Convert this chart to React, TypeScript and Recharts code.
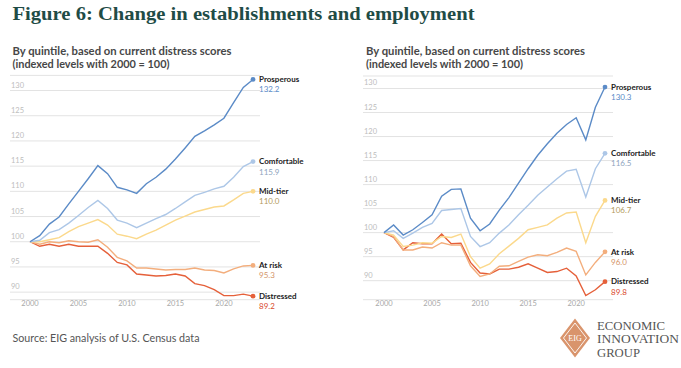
import React from "react";
import { LineChart, Line, XAxis, YAxis, CartesianGrid } from "recharts";

const YEARS = [2000, 2001, 2002, 2003, 2004, 2005, 2006, 2007, 2008, 2009, 2010, 2011, 2012, 2013, 2014, 2015, 2016, 2017, 2018, 2019, 2020, 2021, 2022, 2023];
const X_TICKS = [2000, 2005, 2010, 2015, 2020];
const Y_TICKS = [90, 95, 100, 105, 110, 115, 120, 125, 130];

const SERIES_NAMES = ["Prosperous", "Comfortable", "Mid-tier", "At risk", "Distressed"];
const SERIES_KEYS = ["p", "c", "m", "a", "d"];
const LINE_COLORS = ["#5b8bc7", "#adc7e7", "#fbd98c", "#f3ae7d", "#e5603a"];
const VALUE_COLORS = ["#5b8bc7", "#8ea3bd", "#b39a5c", "#d49469", "#d9492c"];

// Left panel: establishments
const estProsperous = [100, 101.2, 103.5, 104.9, 107.5, 110, 112.5, 115.1, 113.5, 110.8, 110.3, 109.6, 111.5, 112.8, 114.4, 116.4, 118.6, 120.9, 122, 123.2, 124.5, 127.6, 130.6, 132.2];
const estComfortable = [100, 100.3, 101.8, 102.4, 103.7, 105.2, 106.8, 108.2, 106.6, 104.3, 103.7, 102.8, 103.7, 104.6, 105.4, 106.6, 107.9, 109.2, 109.8, 110.5, 111, 112.8, 114.9, 115.9];
const estMidTier = [100, 100, 100.4, 100.8, 102, 103, 103.7, 104.4, 103.3, 101.5, 101.1, 100.6, 101.5, 102.3, 103.3, 104.3, 105.1, 105.9, 106.4, 106.9, 107.1, 108.3, 109.6, 110.0];
const estAtRisk = [100, 99.5, 100, 99.8, 100.2, 100, 99.9, 100.4, 98.9, 96.9, 96.2, 94.8, 94.8, 94.6, 94.4, 94.5, 94.5, 94.8, 94.4, 94.3, 93.8, 94.6, 95.2, 95.3];
const estDistressed = [100, 99.1, 99.5, 99.1, 99.5, 99.1, 99.1, 99.1, 97.7, 95.9, 95.4, 93.6, 93.4, 93.2, 93.3, 93.6, 93.2, 91.7, 91.3, 90.5, 89.3, 89.3, 89.6, 89.2];

// Right panel: employment
const empProsperous = [100, 101.6, 99.5, 100.6, 102.1, 103.7, 107.6, 109, 109.1, 103, 100.4, 101.8, 104.7, 107.3, 110.3, 113.3, 116.1, 118.5, 120.7, 122.5, 123.9, 119.3, 126.1, 130.3];
const empComfortable = [100, 100.4, 98.8, 99.9, 101.1, 101.9, 104.6, 104.8, 105, 99.2, 97.1, 97.9, 99.9, 101.6, 103.7, 105.7, 107.8, 109.5, 111.2, 112.8, 113.2, 107.4, 113.3, 116.5];
const empMidTier = [100, 99.5, 97.1, 97.4, 97.9, 97.8, 99.2, 99, 99.7, 95, 92.6, 93.5, 95.6, 97.2, 98.8, 100.6, 101.1, 101.6, 103, 104.1, 104.3, 97.9, 103.4, 106.7];
const empAtRisk = [100, 99.2, 96.4, 96.4, 97, 96.8, 97.9, 97.4, 97.4, 93.1, 90.9, 91.4, 93, 93.1, 94, 94.9, 95.4, 95.2, 95.9, 96.8, 96.1, 91.2, 93.8, 96.0];
const empDistressed = [100, 99, 96.4, 97.9, 97.7, 97.7, 99.7, 97.7, 97.8, 93.8, 91.6, 91.4, 92.4, 92.4, 92.8, 93.5, 92.6, 91.7, 91.9, 92.6, 91, 86.9, 88.1, 89.8];

const buildRows = (series: number[][]) =>
  YEARS.map((year, i) => {
    const row: any = { year };
    SERIES_KEYS.forEach((k, s) => {
      row[k] = series[s][i];
    });
    return row;
  });

const estRows = buildRows([estProsperous, estComfortable, estMidTier, estAtRisk, estDistressed]);
const empRows = buildRows([empProsperous, empComfortable, empMidTier, empAtRisk, empDistressed]);

const SANS = "Lato, 'Open Sans', sans-serif";

const makeYTick = (labelX: number) => (props: any) => {
  const { y, payload } = props;
  return (
    <text x={labelX} y={y - 3} fontSize={7.5} fill="#bdbdbd" fontFamily={SANS} textAnchor="start">
      {payload.value}
    </text>
  );
};

const XTick = (props: any) => {
  const { x, y, payload } = props;
  return (
    <text x={x} y={y + 6.5} fontSize={7.5} fill="#a8a8a8" fontFamily={SANS} textAnchor="middle">
      {payload.value}
    </text>
  );
};

const makeEndDot = (s: number, key: string) => (props: any) => {
  const { cx, cy, index, payload } = props;
  if (index !== YEARS.length - 1) return <g key={`d-${key}-${index}`} />;
  return (
    <g key={`d-${key}-${index}`}>
      <circle cx={cx} cy={cy} r={2.4} fill={LINE_COLORS[s]} />
      <text x={cx + 6} y={cy + 2.8} fontSize={8} fontWeight={700} fill="#222" fontFamily={SANS}>
        {SERIES_NAMES[s]}
      </text>
      <text x={cx + 6} y={cy + 13} fontSize={8} fill={VALUE_COLORS[s]} fontFamily={SANS}>
        {payload[key].toFixed(1)}
      </text>
    </g>
  );
};

type PanelProps = {
  rows: any[];
  left: number;
  width: number;
  domain: [number, number];
  margin: { top: number; right: number; bottom: number; left: number };
  padding: { left: number; right: number };
};

const Panel = ({ rows, left, width, domain, margin, padding }: PanelProps) => (
  <div style={{ position: "absolute", left, top: 0 }}>
    <LineChart width={width} height={368} data={rows} margin={margin}>
      <CartesianGrid horizontal vertical={false} stroke="#e3e3e3" strokeWidth={1} />
      <XAxis
        dataKey="year"
        type="number"
        domain={[2000, 2023]}
        ticks={X_TICKS}
        padding={padding}
        axisLine={false}
        tickLine={false}
        tickSize={0}
        tickMargin={0}
        height={20}
        tick={<XTick />}
        interval={0}
      />
      <YAxis
        type="number"
        domain={domain}
        ticks={Y_TICKS}
        width={1}
        axisLine={false}
        tickLine={false}
        tickSize={0}
        tickMargin={0}
        tick={makeYTick(margin.left + 2)}
        interval={0}
      />
      {SERIES_KEYS.map((k, s) => (
        <Line
          key={k}
          dataKey={k}
          type="linear"
          stroke={LINE_COLORS[s]}
          strokeWidth={1.4}
          dot={makeEndDot(s, k)}
          activeDot={false}
          isAnimationActive={false}
        />
      )).reverse()}
    </LineChart>
  </div>
);

export default function App() {
  return (
    <div style={{ position: "absolute", left: 0, top: 0, width: 681, height: 368, background: "#fff", overflow: "hidden" }}>
      <Panel
        rows={estRows}
        left={0}
        width={340}
        domain={[88.5, 133]}
        margin={{ top: 75.4, right: 80, bottom: 48.3, left: 9 }}
        padding={{ left: 20, right: 7 }}
      />
      <Panel
        rows={empRows}
        left={340}
        width={341}
        domain={[86.04, 132.6]}
        margin={{ top: 76, right: 68, bottom: 48.3, left: 22 }}
        padding={{ left: 21, right: 8 }}
      />
      <svg width={681} height={368} style={{ position: "absolute", left: 0, top: 0, pointerEvents: "none" }}>
        <text x={12.5} y={20} fontSize={19} fontWeight={700} fill="#1f4c46" fontFamily="'Liberation Serif', serif" textLength={462} lengthAdjust="spacingAndGlyphs">
          Figure 6: Change in establishments and employment
        </text>
        <text x={12.5} y={54.5} fontSize={11} fontWeight={700} fill="#474747" fontFamily={SANS} textLength={219} lengthAdjust="spacingAndGlyphs">
          By quintile, based on current distress scores
        </text>
        <text x={12.5} y={67.5} fontSize={11} fontWeight={700} fill="#474747" fontFamily={SANS} textLength={157} lengthAdjust="spacingAndGlyphs">
          (indexed levels with 2000 = 100)
        </text>
        <text x={366} y={54.5} fontSize={11} fontWeight={700} fill="#474747" fontFamily={SANS} textLength={219} lengthAdjust="spacingAndGlyphs">
          By quintile, based on current distress scores
        </text>
        <text x={366} y={67.5} fontSize={11} fontWeight={700} fill="#474747" fontFamily={SANS} textLength={157} lengthAdjust="spacingAndGlyphs">
          (indexed levels with 2000 = 100)
        </text>
        <text x={12.5} y={342} fontSize={11} fill="#555" fontFamily={SANS} textLength={187} lengthAdjust="spacingAndGlyphs">
          Source: EIG analysis of U.S. Census data
        </text>
        <g>
          <polygon points="575,318.5 590,338 575,357.5 560,338" fill="#d9946c" />
          <polygon points="575,323 586.5,338 575,353 563.5,338" fill="none" stroke="#fff" strokeWidth={0.9} />
          <text x={575} y={341} fontSize={8} fill="#fff" fontFamily="'Liberation Serif', serif" textAnchor="middle">EIG</text>
        </g>
        <text x={597} y={329.5} fontSize={12} fill="#555" fontFamily="'Liberation Serif', serif" textLength={68} lengthAdjust="spacingAndGlyphs">ECONOMIC</text>
        <text x={597} y={343} fontSize={12} fill="#555" fontFamily="'Liberation Serif', serif" textLength={82} lengthAdjust="spacingAndGlyphs">INNOVATION</text>
        <text x={597} y={356.5} fontSize={12} fill="#555" fontFamily="'Liberation Serif', serif" textLength={43} lengthAdjust="spacingAndGlyphs">GROUP</text>
      </svg>
    </div>
  );
}
